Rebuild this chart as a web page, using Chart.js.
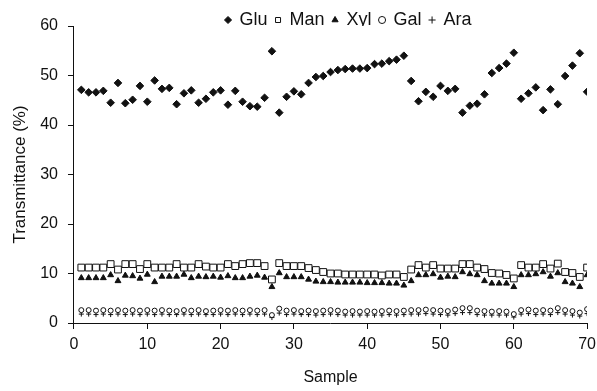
<!DOCTYPE html>
<html>
<head>
<meta charset="utf-8">
<script src="https://cdn.jsdelivr.net/npm/chart.js@4.4.1/dist/chart.umd.min.js"></script>
<style>
  html, body { margin: 0; padding: 0; background: #fff; }
  #wrap { width: 597px; height: 391px; }
</style>
</head>
<body>
<div id="wrap"><canvas id="scatterChart" width="597" height="391"></canvas></div>
<script>
// sample numbers 1..70 (tick labels 0..70 step 10)
var samples = [];
for (var s = 1; s <= 70; s++) samples.push(s);

var glu = [47.1, 46.6, 46.6, 46.9, 44.5, 48.5, 44.4, 45.1, 47.9, 44.7,
           49.0, 47.3, 47.5, 44.2, 46.4, 47.0, 44.5, 45.3, 46.6, 47.0,
           44.1, 46.9, 44.7, 43.8, 43.7, 45.5, 54.9, 42.5, 45.7, 46.8,
           46.2, 48.5, 49.7, 49.9, 50.7, 51.1, 51.3, 51.4, 51.4, 51.5,
           52.3, 52.4, 52.9, 53.2, 54.0, 48.9, 44.8, 46.7, 45.7, 47.9,
           46.9, 47.3, 42.5, 43.9, 44.3, 46.2, 50.5, 51.5, 52.4, 54.6,
           45.3, 46.4, 47.6, 43.0, 47.2, 44.2, 49.9, 52.0, 54.5, 46.7];

var man = [11.2, 11.2, 11.2, 11.2, 11.9, 10.8, 11.9, 11.9, 10.9, 11.9,
           11.2, 11.2, 11.2, 11.9, 11.2, 11.2, 11.9, 11.4, 11.2, 11.2,
           11.9, 11.5, 11.9, 12.1, 12.1, 11.5, 8.8, 12.1, 11.5, 11.5,
           11.5, 11.1, 10.7, 10.3, 10.0, 10.0, 9.8, 9.8, 9.8, 9.8,
           9.8, 9.6, 9.8, 9.8, 9.3, 10.8, 11.7, 11.2, 11.7, 11.0,
           11.0, 11.0, 11.9, 11.9, 11.2, 10.9, 10.1, 10.0, 9.7, 9.0,
           11.7, 11.2, 11.2, 11.9, 11.0, 12.0, 10.3, 10.1, 9.3, 11.2];

var xyl = [9.1, 9.1, 9.1, 9.1, 9.7, 8.5, 9.6, 9.5, 9.0, 9.8,
           8.3, 9.4, 9.4, 9.4, 9.8, 9.1, 9.4, 9.3, 9.4, 9.2,
           9.5, 9.1, 9.1, 9.4, 9.6, 9.2, 7.3, 10.1, 9.3, 9.3,
           9.3, 8.8, 8.4, 8.3, 8.3, 8.2, 8.2, 8.2, 8.2, 8.1,
           8.1, 8.1, 8.0, 8.0, 7.6, 8.5, 9.7, 9.7, 9.9, 9.2,
           9.4, 9.3, 10.3, 9.9, 9.7, 8.5, 8.0, 8.0, 8.0, 7.3,
           9.7, 9.7, 9.9, 10.3, 9.4, 10.1, 8.3, 8.0, 7.3, 9.7];

var gal = [2.6, 2.6, 2.5, 2.6, 2.5, 2.6, 2.5, 2.6, 2.5, 2.6,
           2.5, 2.6, 2.5, 2.4, 2.6, 2.5, 2.6, 2.4, 2.5, 2.6,
           2.5, 2.6, 2.5, 2.6, 2.5, 2.6, 1.6, 2.9, 2.5, 2.6,
           2.4, 2.5, 2.4, 2.5, 2.6, 2.5, 2.3, 2.4, 2.3, 2.4,
           2.3, 2.4, 2.5, 2.4, 2.5, 2.6, 2.6, 2.7, 2.6, 2.5,
           2.4, 2.7, 3.0, 3.0, 2.5, 2.4, 2.3, 2.4, 2.3, 1.8,
           2.6, 2.7, 2.5, 2.6, 2.5, 3.0, 2.6, 2.4, 2.1, 2.8];

var ara = [1.8, 1.8, 1.7, 1.8, 1.7, 1.8, 1.7, 1.8, 1.7, 1.8,
           1.7, 1.8, 1.7, 1.7, 1.8, 1.7, 1.8, 1.7, 1.7, 1.8,
           1.7, 1.8, 1.7, 1.8, 1.7, 1.8, 1.1, 2.0, 1.7, 1.8,
           1.7, 1.7, 1.6, 1.7, 1.8, 1.7, 1.6, 1.6, 1.6, 1.6,
           1.6, 1.6, 1.7, 1.6, 1.7, 1.8, 1.8, 1.9, 1.8, 1.7,
           1.6, 1.9, 2.1, 2.1, 1.7, 1.6, 1.6, 1.6, 1.6, 1.2,
           1.8, 1.9, 1.7, 1.8, 1.7, 2.1, 1.8, 1.6, 1.4, 1.9];

function pts(vals) {
    return vals.map(function (v, i) { return { x: samples[i], y: v }; });
}

var ink = '#111';
Chart.defaults.font.family = '"Liberation Sans", Arial, Helvetica, sans-serif';
Chart.defaults.font.size = 16;
Chart.defaults.color = ink;

// nudge the legend a bit right of the plot centre, like the original figure
var legendShift = {
    id: 'legendShift',
    afterLayout: function (chart) {
        if (chart.legend) {
            chart.legend.left += 18;
            chart.legend.right += 18;
        }
    }
};

var ctx = document.getElementById('scatterChart').getContext('2d');
new Chart(ctx, {
    type: 'scatter',
    data: {
        datasets: [
            { label: 'Glu', data: pts(glu), pointStyle: 'rectRot', pointRadius: 3.8,
              backgroundColor: ink, borderColor: ink, borderWidth: 1 },
            { label: 'Man', data: pts(man), pointStyle: 'rect', pointRadius: 4.8,
              backgroundColor: '#fff', borderColor: ink, borderWidth: 1 },
            { label: 'Xyl', data: pts(xyl), pointStyle: 'triangle', pointRadius: 3.4,
              backgroundColor: ink, borderColor: ink, borderWidth: 1 },
            { label: 'Gal', data: pts(gal), pointStyle: 'circle', pointRadius: 2.5,
              backgroundColor: '#fff', borderColor: ink, borderWidth: 1 },
            { label: 'Ara', data: pts(ara), pointStyle: 'cross', pointRadius: 2.5,
              backgroundColor: ink, borderColor: ink, borderWidth: 1 }
        ]
    },
    plugins: [legendShift],
    options: {
        responsive: false,
        animation: false,
        layout: { padding: { left: 9.8, right: 0, top: 3, bottom: 1.4 } },
        plugins: {
            tooltip: { enabled: false },
            legend: {
                position: 'top',
                fullSize: false,
                maxHeight: 23,
                labels: { usePointStyle: true, boxWidth: 5, boxHeight: 5, padding: 8,
                          font: { size: 18 }, color: ink }
            }
        },
        scales: {
            x: {
                type: 'linear', min: 0, max: 70,
                ticks: { stepSize: 10, padding: 1, color: ink, font: { lineHeight: 1.875 } },
                grid: { display: true, drawOnChartArea: false, drawTicks: true, tickLength: 6, color: ink },
                border: { display: true, color: ink, width: 1 },
                title: { display: true, text: 'Sample', color: ink, padding: { top: 7.4, bottom: 2 } }
            },
            y: {
                min: 0, max: 60,
                ticks: { stepSize: 10, padding: 10, color: ink },
                grid: { display: true, drawOnChartArea: false, drawTicks: true, tickLength: 6, color: ink },
                border: { display: true, color: ink, width: 1 },
                title: { display: true, text: 'Transmittance (%)', color: ink,
                         font: { size: 17 }, padding: { top: 0, bottom: 0 } }
            }
        }
    }
});
</script>
</body>
</html>
